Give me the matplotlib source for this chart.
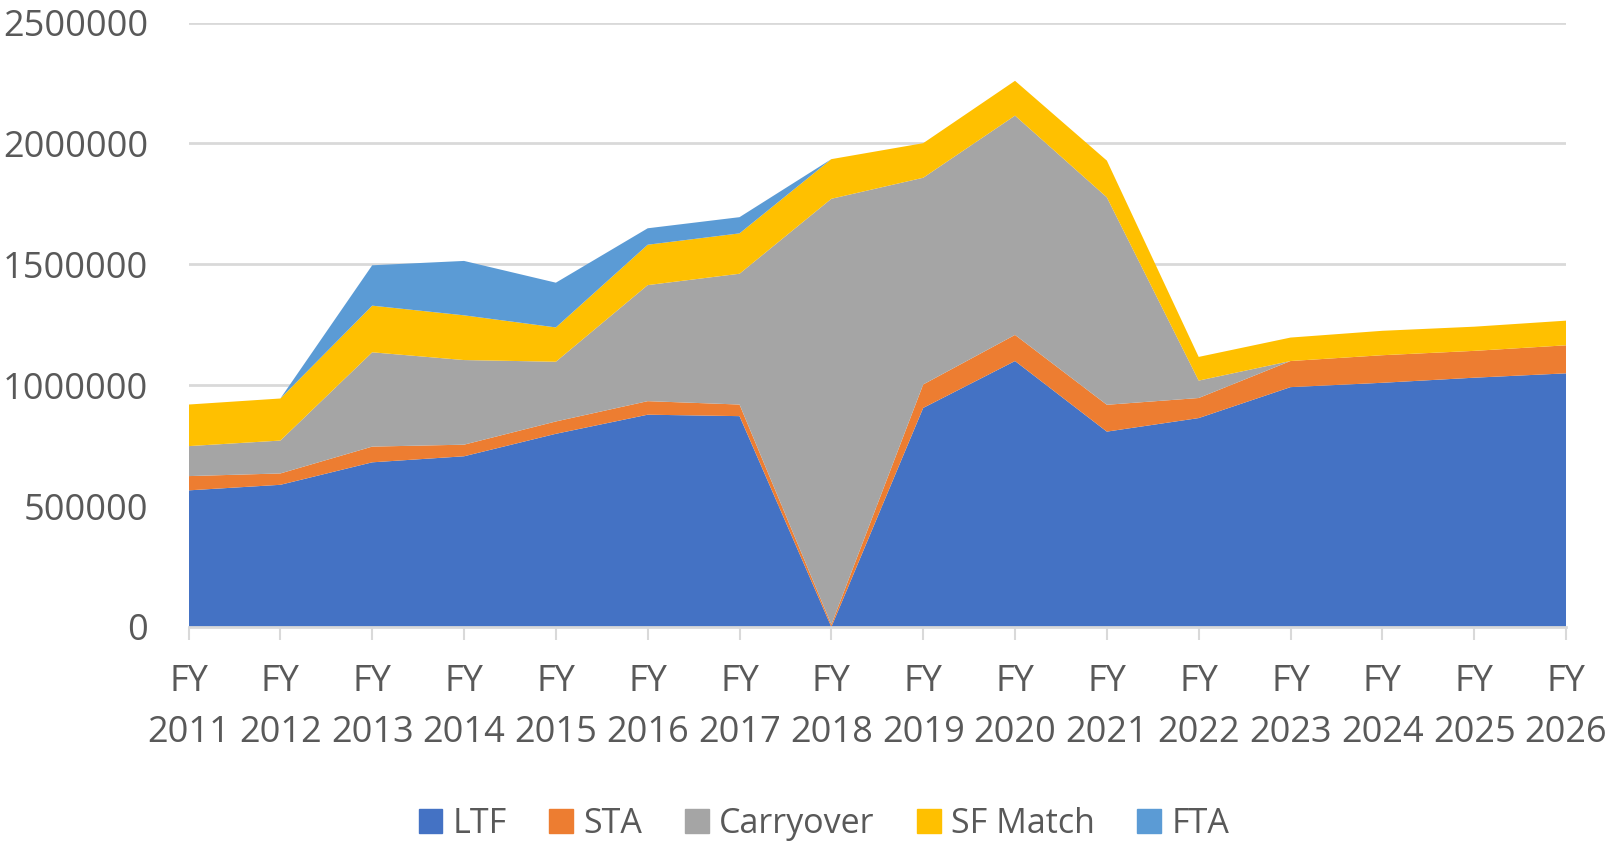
"""Stacked area chart of funding sources by fiscal year."""
import matplotlib
matplotlib.use("Agg")
import matplotlib.pyplot as plt
import matplotlib.patches as mpatches
import matplotlib.ticker as tkr

plt.rcParams['font.family'] = ['Open Sans', 'DejaVu Sans']

years = list(range(2011, 2027))
year_labels = ["FY\n%d" % y for y in years]

ltf = [565000, 588000, 681000, 706000, 799000, 878000, 872000, 0,
       906000, 1100000, 808000, 864000, 992000, 1010000, 1031000, 1049000]
sta = [59000, 47000, 65000, 48000, 51000, 56000, 48000, 10000,
       97000, 108000, 111000, 83000, 108000, 114000, 111000, 116000]
carryover = [124000, 136000, 390000, 350000, 247000, 480000, 541000, 1761000,
             855000, 907000, 858000, 72000, 0, 0, 0, 0]
sf_match = [172000, 174000, 193000, 185000, 142000, 167000, 167000, 164000,
            143000, 144000, 152000, 98000, 97000, 101000, 100000, 102000]
fta = [0, 0, 167000, 225000, 185000, 68000, 67000, 0,
       0, 0, 0, 0, 0, 0, 0, 0]

names = ["LTF", "STA", "Carryover", "SF Match", "FTA"]
colors = ["#4472C4", "#ED7D31", "#A5A5A5", "#FFC000", "#5B9BD5"]

text_c = "#595959"
grid_c = "#D9D9D9"

fig = plt.figure(figsize=(16.06, 8.41), dpi=100)
ax = fig.add_axes([0.1174, 0.2545, 0.8577, 0.7187])

ax.stackplot(years, ltf, sta, carryover, sf_match, fta, colors=colors,
             linewidth=0, zorder=2)

ax.set_xlim(2011, 2026)
ax.set_ylim(0, 2500000)
ax.set_yticks([0, 500000, 1000000, 1500000, 2000000, 2500000])
ax.yaxis.set_major_formatter(tkr.FuncFormatter(lambda v, pos: "%d" % v))
ax.set_xticks(years)
ax.set_xticklabels(year_labels, linespacing=1.52)

ax.grid(axis='y', color=grid_c, linewidth=2, zorder=0)
ax.set_axisbelow(True)
for s in ['top', 'right', 'left']:
    ax.spines[s].set_visible(False)
ax.spines['bottom'].set_color(grid_c)
ax.spines['bottom'].set_linewidth(2)
ax.spines['bottom'].set_zorder(3)

ax.tick_params(axis='y', length=0, pad=29, labelsize=26, labelcolor=text_c)
ax.tick_params(axis='x', length=9, width=1.5, color=grid_c, pad=18,
               labelsize=26, labelcolor=text_c)

handles = [mpatches.Patch(color=c, label=n) for c, n in zip(colors, names)]
fig.legend(handles=handles, loc='center', bbox_to_anchor=(0.513, 0.02),
           ncol=5, frameon=False, fontsize=24.5, labelcolor=text_c,
           handlelength=0.7, handleheight=0.7, handletextpad=0.3,
           columnspacing=1.25)

fig.savefig("out.png", dpi=100)
